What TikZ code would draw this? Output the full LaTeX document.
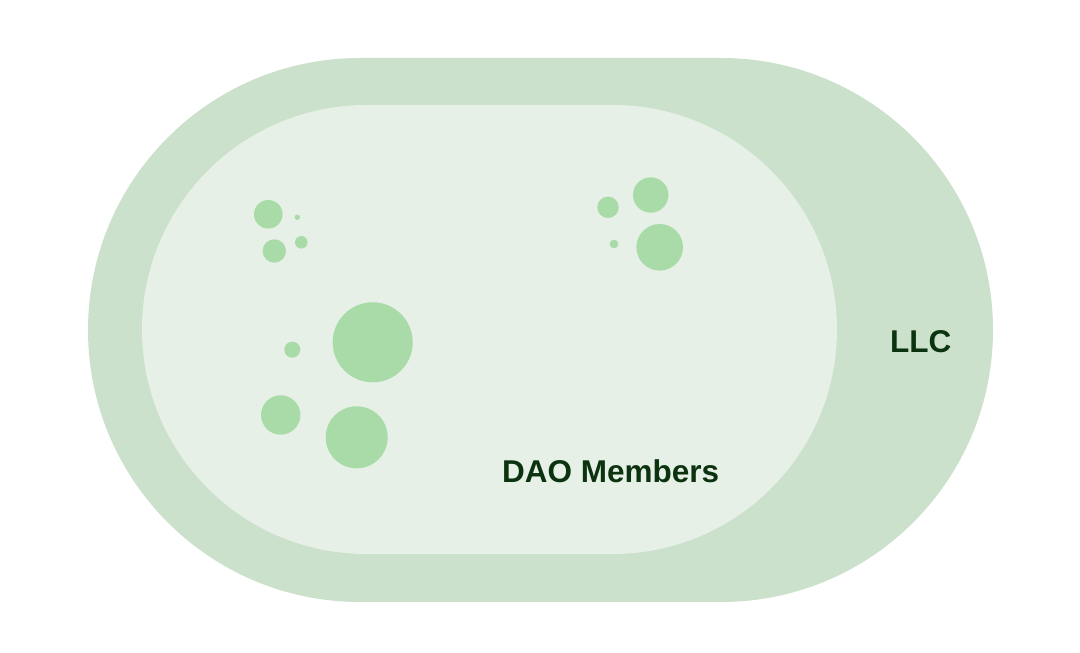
\documentclass[tikz,border=0pt]{standalone}
\usepackage{fontspec}
\setmainfont{Liberation Sans}
\definecolor{outerg}{HTML}{CBE1CB}
\definecolor{innerg}{HTML}{E7F0E7}
\definecolor{dotg}{HTML}{A8DBA8}
\definecolor{textg}{HTML}{0C330F}
\begin{document}
\begin{tikzpicture}[x=1pt,y=1pt,
  dot/.style={circle,fill=dotg,draw=none,inner sep=0pt},
  lbl/.style={text=textg,font=\fontsize{31.5}{35}\selectfont\bfseries,inner sep=0pt,anchor=base west}]
\useasboundingbox[fill=white] (0,0) rectangle (1080,653);
% outer LLC stadium
\fill[outerg] (360,595) -- (721,595) arc[start angle=90,end angle=-90,radius=272pt]
  -- (360,51) arc[start angle=270,end angle=90,radius=272pt] -- cycle;
% inner DAO stadium
\fill[innerg] (366.5,548) -- (612.5,548) arc[start angle=90,end angle=-90,radius=224.5pt]
  -- (366.5,99) arc[start angle=270,end angle=90,radius=224.5pt] -- cycle;
% members
\node[dot,minimum size=28.6pt] (c1) at (268.3,438.7) {};
\node[dot,minimum size=5.4pt] (c2) at (297.3,435.7) {};
\node[dot,minimum size=23.4pt] (c3) at (274.3,402) {};
\node[dot,minimum size=12.6pt] (c4) at (301.3,410.7) {};
\node[dot,minimum size=80pt] (c5) at (372.7,310.7) {};
\node[dot,minimum size=16pt] (c6) at (292.3,303.3) {};
\node[dot,minimum size=39.4pt] (c7) at (280.7,238) {};
\node[dot,minimum size=62pt] (c8) at (356.7,215.7) {};
\node[dot,minimum size=35.4pt] (d1) at (650.7,458) {};
\node[dot,minimum size=21.4pt] (d2) at (608,445.7) {};
\node[dot,minimum size=8.6pt] (d3) at (614,409) {};
\node[dot,minimum size=46.6pt] (d4) at (659.7,405.7) {};
% labels
\node[lbl] (dao) at (502,170.3) {DAO Members};
\node[lbl] (llc) at (890,300.7) {LLC};
\end{tikzpicture}
\end{document}
